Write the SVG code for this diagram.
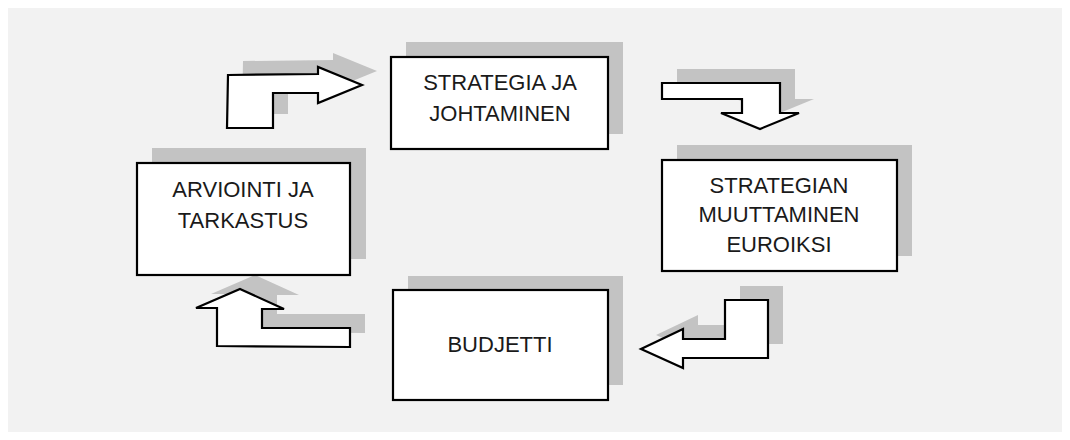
<svg xmlns="http://www.w3.org/2000/svg" width="1070" height="440" viewBox="0 0 1070 440">
<style>
.shadow{fill:#c3c3c3;stroke:none}
.box{fill:#ffffff;stroke:#000000;stroke-width:2.2}
.arrow{fill:#ffffff;stroke:#000000;stroke-width:2.2;stroke-linejoin:miter}
.label{font-family:"Liberation Sans",Arial,sans-serif;font-size:22px;fill:#1a1a1a;text-anchor:middle}
</style>
<defs>
<path id="a1" d="M228,75 L318,74 L318,67 L362,85 L318,103 L318,93 L273,93 L273,128 L227,128 Z"/>
<path id="a2" d="M662,83 L780,83 L780,113 L799,113 L760,129 L721,113 L742,113 L742,99 L662,99 Z"/>
<path id="a3" d="M725,300 L768,300 L768,358 L683,358 L683,368 L641,349 L683,329 L683,339 L725,339 Z"/>
<path id="a4" d="M240,289 L284,309 L262,309 L262,328 L350,328 L350,347 L217,346 L217,308 L196,308 Z"/>
</defs>
<rect x="8" y="8" width="1054" height="424" fill="#f2f2f2"/>
<g id="connectors">
<use href="#a1" class="shadow" transform="translate(15,-14)"/>
<use href="#a1" class="arrow"/>
<use href="#a2" class="shadow" transform="translate(15,-14)"/>
<use href="#a2" class="arrow"/>
<use href="#a3" class="shadow" transform="translate(15,-14)"/>
<use href="#a3" class="arrow"/>
<use href="#a4" class="shadow" transform="translate(15,-14)"/>
<use href="#a4" class="arrow"/>
</g>
<g id="strategia">
<rect class="shadow" x="406" y="42" width="217" height="92"/>
<rect class="box" x="391" y="57" width="217" height="92"/>
<text class="label" x="500" y="90">STRATEGIA JA</text>
<text class="label" x="500" y="121">JOHTAMINEN</text>
</g>
<g id="muuttaminen">
<rect class="shadow" x="677" y="145" width="235" height="111"/>
<rect class="box" x="662" y="160" width="235" height="111"/>
<text class="label" x="779" y="193">STRATEGIAN</text>
<text class="label" x="779" y="222">MUUTTAMINEN</text>
<text class="label" x="779" y="252">EUROIKSI</text>
</g>
<g id="budjetti">
<rect class="shadow" x="408" y="276" width="215" height="109"/>
<rect class="box" x="393" y="290" width="215" height="110"/>
<text class="label" x="500" y="352">BUDJETTI</text>
</g>
<g id="arviointi">
<rect class="shadow" x="152" y="148" width="214" height="111"/>
<rect class="box" x="137" y="163" width="213" height="112"/>
<text class="label" x="243" y="197">ARVIOINTI JA</text>
<text class="label" x="243" y="228">TARKASTUS</text>
</g>
</svg>
